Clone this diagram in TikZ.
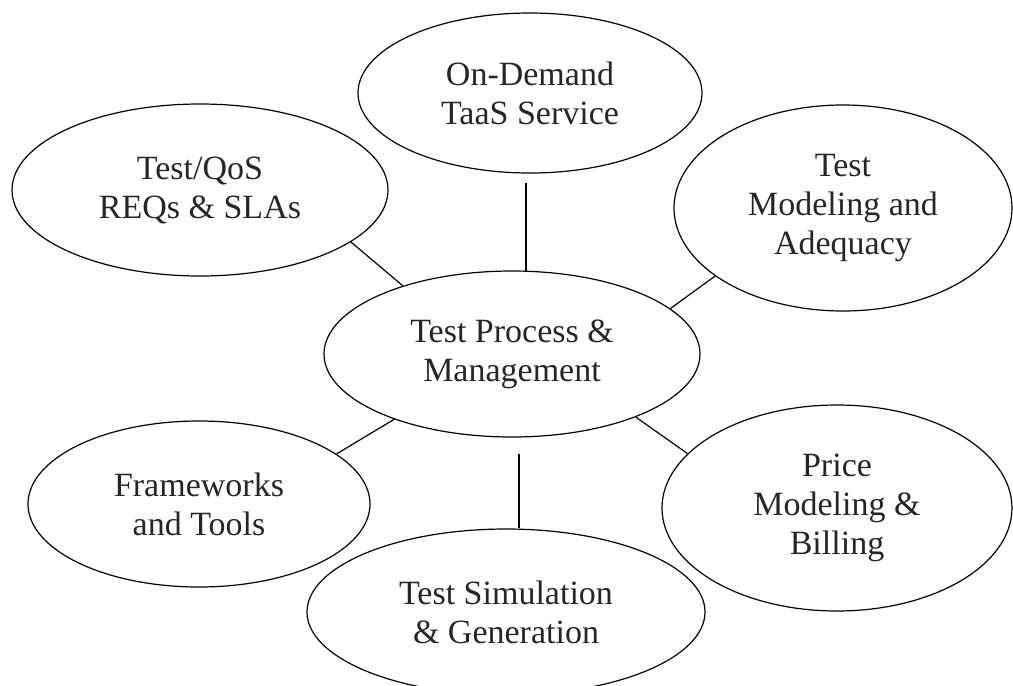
\documentclass[tikz,border=0pt]{standalone}
\usepackage{fontspec}
\setmainfont{Liberation Serif}
\usetikzlibrary{shapes.geometric}
\tikzset{
  bubble/.style={draw, ellipse, line width=1.2pt, inner sep=0pt, align=center,
    font=\fontsize{34}{39}\selectfont, text=black!85},
  link/.style={line width=1.2pt}
}
\begin{document}
\begin{tikzpicture}[x=1pt,y=-1pt]
\useasboundingbox (0,0) rectangle (1013,686);
\node[bubble, minimum width=344pt, minimum height=160pt] (od) at (530,93) {On-Demand\\TaaS Service};
\node[bubble, minimum width=376pt, minimum height=172pt] (tq) at (200,190) {Test/QoS\\REQs \& SLAs};
\node[bubble, minimum width=338pt, minimum height=206pt] (tm) at (843,208) {Test\\Modeling and\\Adequacy};
\node[bubble, minimum width=376pt, minimum height=166pt] (cp) at (512,354) {Test Process \&\\Management};
\node[bubble, minimum width=342pt, minimum height=166pt] (fw) at (199,504) {Frameworks\\and Tools};
\node[bubble, minimum width=350pt, minimum height=206pt] (pb) at (837,508) {Price\\Modeling \&\\Billing};
\node[bubble, minimum width=398pt, minimum height=166pt] (ts) at (506,612) {Test Simulation\\\& Generation};
% connectors
\draw[link] ([xshift=-4pt,yshift=-9pt]od.south) -- ([xshift=-4pt,yshift=-2pt]od.south |- cp.north);
\draw[link] (tq.-19) -- (cp.148);
\draw[link] (cp.16) -- (tm.208);
\draw[link] (cp.209) -- (fw.20);
\draw[link] (cp.-27) -- (pb.160);
\draw[link] ([xshift=7pt,yshift=-16pt]cp.south) -- ([xshift=7pt]cp.south |- ts.north);
\end{tikzpicture}
\end{document}
